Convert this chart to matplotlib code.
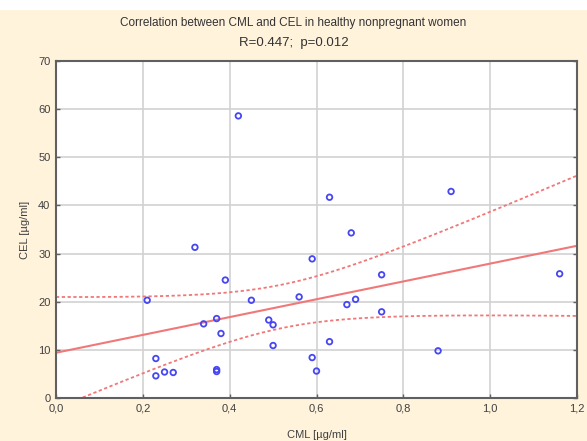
import numpy as np
import matplotlib
matplotlib.use("Agg")
import matplotlib.pyplot as plt
from matplotlib.patches import Rectangle
from matplotlib.ticker import FuncFormatter

plt.rcParams['font.family'] = ['Liberation Sans', 'DejaVu Sans']

# CML / CEL values
cml = [0.21, 0.23, 0.23, 0.25, 0.27, 0.32, 0.34, 0.37, 0.37, 0.37, 0.38, 0.39,
       0.42, 0.45, 0.49, 0.50, 0.50, 0.56, 0.59, 0.59, 0.60, 0.63, 0.63, 0.67,
       0.68, 0.69, 0.75, 0.75, 0.88, 0.91, 1.16]
cel = [20.3, 8.2, 4.6, 5.4, 5.3, 31.3, 15.4, 16.5, 5.9, 5.5, 13.4, 24.5,
       58.6, 20.3, 16.2, 15.2, 10.9, 21.0, 28.9, 8.4, 5.6, 41.7, 11.7, 19.4,
       34.3, 20.5, 25.6, 17.9, 9.8, 42.9, 25.8]

title_text = "Correlation between CML and CEL in healthy nonpregnant women"
stats_text = "R=0.447;  p=0.012"

x = np.array(cml)
y = np.array(cel)
n = len(x)
slope, intercept = np.polyfit(x, y, 1)
xs = np.linspace(0, 1.2, 200)
fit = intercept + slope * xs
resid = y - (intercept + slope * x)
s = np.sqrt(np.sum(resid ** 2) / (n - 2))
sxx = np.sum((x - x.mean()) ** 2)
t = 2.045
half = t * s * np.sqrt(1 / n + (xs - x.mean()) ** 2 / sxx)

fig = plt.figure(figsize=(5.87, 4.41), dpi=100, facecolor='#FFF3DC')
fig.patches.append(Rectangle((0, 1 - 10 / 441), 1, 10 / 441, transform=fig.transFigure,
                             facecolor='white', edgecolor='none', zorder=0))
ax = fig.add_axes([56 / 587, 1 - 398 / 441, (577 - 56) / 587, (398 - 61) / 441])
ax.set_facecolor('white')

ax.plot(xs, fit, color='#F07878', lw=1.5, zorder=2)
ax.plot(xs, fit + half, color='#F07878', lw=1.3, ls=(0, (1.8, 1.4)), zorder=2)
ax.plot(xs, fit - half, color='#F07878', lw=1.3, ls=(0, (1.8, 1.4)), zorder=2)
ax.scatter(x, y, s=16, facecolors='none', edgecolors='#4646F2', linewidths=1.3, zorder=3)

ax.set_xlim(0, 1.2)
ax.set_ylim(0, 70)
ax.set_xticks(np.arange(0, 1.21, 0.2))
ax.set_yticks(np.arange(0, 71, 10))
ax.xaxis.set_major_formatter(FuncFormatter(lambda v, p: f"{v:.1f}".replace('.', ',')))
ax.grid(True, color='#D2D2D2', lw=1.2)
ax.set_axisbelow(True)
for sp in ax.spines.values():
    sp.set_color('#606060')
    sp.set_linewidth(1.5)
ax.tick_params(direction='in', length=3, width=1, color='#606060',
               labelsize=8, labelcolor='#404040', right=True, pad=4)

ax.set_xlabel("CML [µg/ml]", fontsize=8, color='#404040', labelpad=12)
ax.set_ylabel("CEL [µg/ml]", fontsize=8, color='#404040', labelpad=6)

fig.text(0.5, 1 - 23 / 441, title_text, ha='center', va='center', fontsize=8.5, color='#333333')
fig.text(0.5, 1 - 43 / 441, stats_text, ha='center', va='center', fontsize=9.5, color='#333333')

fig.savefig("out.png", dpi=100, facecolor=fig.get_facecolor())
